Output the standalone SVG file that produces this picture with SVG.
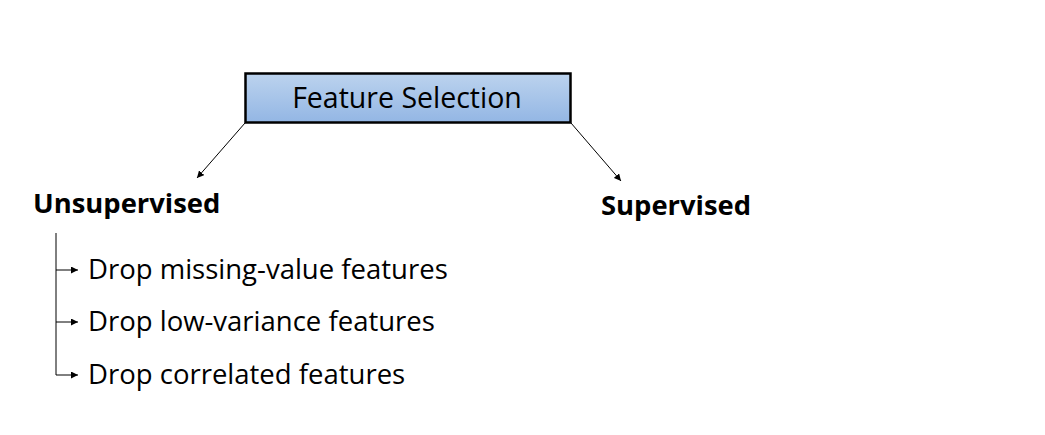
<svg xmlns="http://www.w3.org/2000/svg" width="1045" height="435" viewBox="0 0 1045 435">
<style>
text{font-family:"Open Sans","Noto Sans","Liberation Sans",sans-serif;fill:#000}
.t{font-size:27.5px}
.h{font-size:28.5px}
.b{font-size:27.4px;font-weight:bold}
.c{stroke:#000;stroke-width:1;fill:none}
</style>
<defs>
<linearGradient id="g" x1="0" y1="0" x2="0" y2="1">
<stop offset="0" stop-color="#bcd3ee"/>
<stop offset="1" stop-color="#93b6e4"/>
</linearGradient>
<marker id="a" viewBox="0 0 10 10" refX="10" refY="5" markerWidth="7" markerHeight="7" orient="auto" markerUnits="userSpaceOnUse"><path d="M0,0L10,5L0,10z" fill="#000"/></marker>
</defs>
<rect width="1045" height="435" fill="#fff"/>
<g id="connectors">
<line class="c" x1="245" y1="123" x2="197" y2="178" marker-end="url(#a)"/>
<line class="c" x1="571" y1="123" x2="621" y2="181" marker-end="url(#a)"/>
<path class="c" d="M56,233V375"/>
<line class="c" x1="56" y1="270" x2="78" y2="270" marker-end="url(#a)"/>
<line class="c" x1="56" y1="322" x2="78" y2="322" marker-end="url(#a)"/>
<line class="c" x1="56" y1="375" x2="78" y2="375" marker-end="url(#a)"/>
</g>
<g id="feature-selection">
<rect x="245.5" y="73.5" width="325" height="49" fill="url(#g)" stroke="#000" stroke-width="2.5"/>
<text class="h" x="407" y="108" text-anchor="middle">Feature Selection</text>
</g>
<g id="unsupervised"><text class="b" x="33" y="213">Unsupervised</text></g>
<g id="supervised"><text class="b" x="601" y="215">Supervised</text></g>
<g id="drop-missing"><text class="t" x="88" y="279">Drop missing-value features</text></g>
<g id="drop-low"><text class="t" x="88" y="331">Drop low-variance features</text></g>
<g id="drop-corr"><text class="t" x="88" y="384">Drop correlated features</text></g>
</svg>
